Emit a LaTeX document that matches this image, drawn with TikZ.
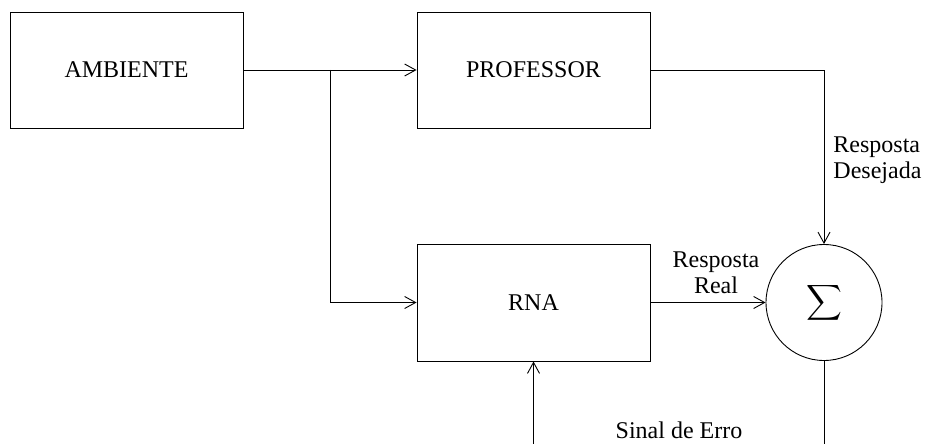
\documentclass[tikz,border=0pt]{standalone}
\usepackage{amsmath}
\usepackage{fontspec}
\setmainfont{Liberation Serif}
\usetikzlibrary{arrows.meta}
\begin{document}
\begin{tikzpicture}[x=1pt,y=-1pt,
  font=\fontsize{24}{26}\selectfont,
  line width=0.9pt,
  blockbox/.style={draw, rectangle, minimum width=233pt, minimum height=116pt, inner sep=0pt},
  sumnode/.style={draw, circle, minimum size=116pt, inner sep=0pt},
  lbl/.style={inner sep=0pt},
  arr/.style={-{Straight Barb[length=11pt,width=12pt,line width=0.9pt]}}]
\useasboundingbox (0,0) rectangle (926,444);
\node[blockbox] (amb) at (126.5,70) {AMBIENTE};
\node[blockbox] (prof) at (533.5,70) {PROFESSOR};
\node[blockbox, minimum height=117pt] (rna) at (533.5,302.5) {RNA};
\node[sumnode] (sum) at (824,302.5) {$\displaystyle\sum$};
\coordinate (br) at (330,70);
\coordinate (sumout) at (824,444);
\coordinate (errin) at (533.5,444);
\draw[arr] (amb.east) -- (prof.west);
\draw[arr] (br) |- (rna.west);
\draw[arr] (prof.east) -| (sum.north);
\draw[arr] (rna.east) -- (sum.west);
\draw (sum.south) -- (sumout);
\draw[arr] (errin) -- (rna.south);
\node[lbl, anchor=north west, align=left] (desej) at (833,136) {Resposta\\Desejada};
\node[lbl, anchor=north, align=center] (real) at (716,251) {Resposta\\Real};
\node[lbl, anchor=base] (erro) at (679,438) {Sinal de Erro};
\end{tikzpicture}
\end{document}
